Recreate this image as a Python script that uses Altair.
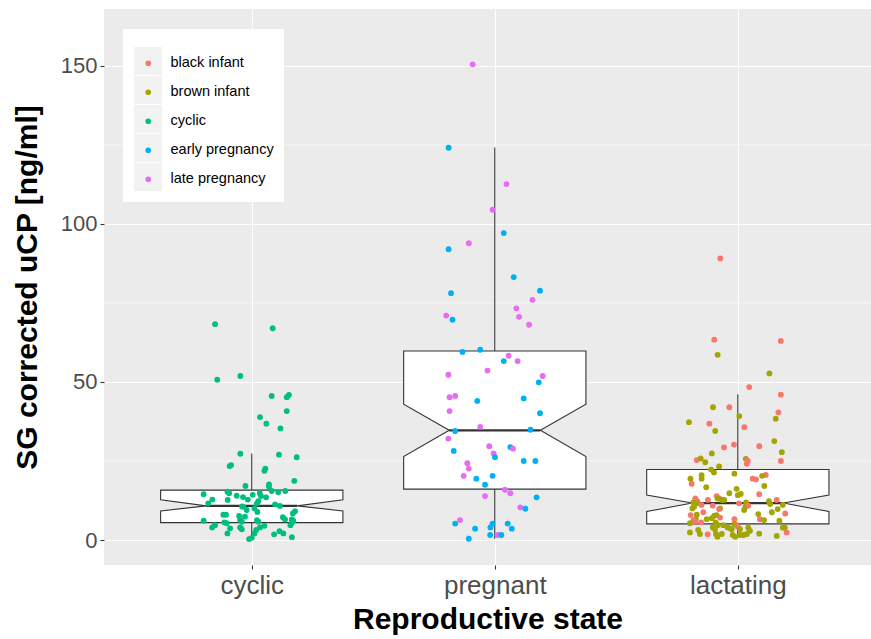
import json
import altair as alt
import pandas as pd

FONT = "Liberation Sans"

states = ["cyclic", "pregnant", "lactating"]
groups = ["black infant", "brown infant", "cyclic", "early pregnancy", "late pregnancy"]
colors = ["#F8766D", "#A3A500", "#00BF7D", "#00B0F6", "#E76BF3"]
y_ticks = [0, 50, 100, 150]
y_minor = [25, 75, 125]

# ---- box statistics (cyclic, pregnant, lactating)
q1 = [5.5, 16.1, 5.1]
median = [10.8, 34.7, 11.7]
q3 = [15.8, 59.8, 22.3]
notch_lo = [9.2, 26.4, 9.0]
notch_hi = [12.7, 43.0, 14.2]
whisk_lo = [0.3, 0.4, 1.0]
whisk_hi = [27.4, 124.2, 46.1]
box_half = 0.375
notch_half = 0.1875

# ---- jittered observations (jitter in category units)
cyc_jit = [-0.151, 0.086, -0.142, -0.047, 0.082, 0.144, 0.153, 0.144, 0.034, 0.060,
           0.118, -0.047, 0.112, 0.185, -0.085, -0.091, 0.052, 0.056, 0.175, -0.026,
           0.071, 0.071, -0.100, -0.093, -0.062, -0.198, -0.162, -0.179, -0.099, -0.036,
           -0.016, 0.004, 0.033, 0.038, 0.059, 0.082, 0.109, 0.138, 0.021, 0.027,
           -0.035, -0.040, -0.021, 0.096, 0.116, 0.011, 0.023, 0.178, 0.169, -0.117,
           -0.106, -0.052, -0.028, -0.198, 0.128, 0.137, 0.165, 0.171, -0.113, -0.103,
           -0.048, -0.041, 0.021, 0.027, -0.151, -0.163, -0.048, -0.041, 0.052, 0.034,
           0.159, 0.165, -0.089, -0.100, 0.018, 0.011, 0.092, 0.114, 0.130, 0.165,
           -0.011, 0.000]
cyc_val = [68.3, 67.0, 50.7, 51.9, 45.6, 45.2, 45.9, 40.8, 38.9, 36.8,
           35.3, 27.3, 27.0, 26.2, 23.7, 23.4, 21.9, 22.6, 18.7, 17.1,
           17.6, 16.9, 15.3, 14.8, 14.0, 14.5, 12.8, 11.6, 12.7, 13.6,
           12.8, 14.3, 14.8, 13.9, 13.5, 15.5, 15.1, 15.5, 11.6, 12.3,
           10.5, 10.6, 9.5, 11.3, 10.8, 10.0, 8.9, 9.1, 8.4, 8.0,
           8.0, 7.6, 7.4, 6.1, 7.2, 6.5, 6.5, 6.1, 5.6, 5.3,
           6.3, 5.8, 6.3, 5.8, 4.7, 4.0, 4.0, 3.4, 4.5, 4.0,
           4.7, 5.5, 3.7, 2.1, 3.2, 2.1, 1.8, 2.8, 2.1, 0.9,
           0.3, 0.7]

preg_jit = [-0.091, -0.190, 0.048, -0.009, 0.037, -0.107, -0.190, 0.078, 0.186, -0.180,
            0.155, 0.089, -0.200, -0.174, 0.100, 0.141, -0.060, -0.133, 0.057, 0.037,
            0.094, -0.191, -0.030, 0.197, 0.181, -0.186, -0.163, -0.072, 0.119, -0.186,
            0.186, -0.060, -0.163, 0.147, -0.191, -0.023, 0.064, 0.075, -0.169, -0.005,
            0.001, 0.119, 0.167, -0.113, -0.107, -0.128, -0.076, -0.009, -0.040, 0.042,
            0.064, -0.040, 0.172, 0.105, 0.126, -0.143, -0.163, -0.009, -0.018, 0.053,
            0.070, -0.081, -0.107, -0.019, 0.011, 0.027]
preg_val = [150.5, 124.1, 112.6, 104.5, 97.1, 93.9, 92.0, 83.2, 78.9, 78.1,
            76.0, 73.3, 71.0, 69.7, 70.6, 68.1, 60.2, 59.5, 58.3, 56.6,
            56.6, 52.3, 53.6, 51.9, 49.9, 45.2, 45.6, 44.0, 44.8, 40.8,
            40.1, 35.8, 34.5, 34.9, 32.1, 29.7, 29.4, 28.9, 28.2, 27.4,
            26.2, 25.0, 25.0, 24.3, 22.6, 20.3, 19.4, 20.3, 17.5, 15.9,
            14.8, 13.9, 13.5, 10.3, 9.9, 6.3, 5.2, 5.2, 4.0, 5.2,
            3.6, 3.6, 0.4, 1.6, 1.6, 1.6]
preg_grp = ["L", "E", "L", "L", "E", "L", "E", "E", "E", "E",
            "L", "L", "L", "E", "L", "L", "E", "E", "L", "E",
            "L", "L", "L", "L", "E", "L", "L", "E", "E", "L",
            "E", "L", "E", "E", "L", "L", "E", "L", "E", "L",
            "E", "E", "E", "L", "L", "L", "E", "E", "E", "L",
            "L", "L", "E", "L", "E", "L", "E", "E", "E", "E",
            "E", "E", "E", "E", "L", "E"]

lac_jit = [-0.072, -0.097, 0.177, -0.083, 0.130, 0.047, 0.177, -0.102, -0.035, 0.006,
           0.167, 0.156, -0.201, -0.117, 0.027, -0.093, 0.150, 0.088, -0.016, -0.057,
           0.181, -0.107, 0.177, 0.033, 0.041, 0.037, -0.169, -0.153, -0.134, -0.077,
           -0.110, -0.098, -0.014, -0.195, -0.190, -0.149, -0.149, 0.061, 0.075, 0.115,
           0.100, 0.109, -0.130, -0.005, -0.035, 0.000, 0.012, 0.088, -0.175, -0.167,
           -0.123, -0.087, -0.076, -0.066, -0.056, -0.083, 0.005, 0.034, 0.128, 0.133,
           0.160, 0.185, -0.183, -0.169, -0.149, -0.103, -0.187, -0.180, -0.073, -0.077,
           0.026, 0.031, 0.043, 0.164, 0.140, 0.195, -0.142, -0.169, 0.084, -0.087,
           -0.097, -0.194, -0.173, -0.128, -0.107, -0.176, -0.183, -0.151, -0.073, -0.014,
           0.091, 0.108, 0.171, -0.091, -0.083, -0.060, -0.042, -0.014, -0.005, 0.000,
           0.185, -0.197, -0.103, -0.094, -0.032, -0.025, 0.009, 0.043, -0.197, -0.163,
           -0.156, -0.124, -0.090, -0.084, -0.066, -0.021, -0.010, 0.009, 0.023, 0.037,
           0.050, 0.160, 0.201, 0.088, 0.193]
lac_val = [89.1, 63.4, 63.0, 58.6, 52.7, 48.4, 46.0, 42.0, 42.0, 39.2,
           40.4, 38.4, 37.3, 36.8, 35.7, 34.5, 31.3, 29.7, 30.2, 29.3,
           27.8, 27.4, 25.0, 25.7, 25.0, 24.1, 25.3, 25.8, 24.6, 23.3,
           22.3, 21.4, 21.0, 19.4, 17.8, 20.5, 19.4, 19.4, 19.2, 20.6,
           20.3, 17.1, 16.7, 16.2, 14.8, 14.2, 14.6, 14.5, 13.2, 12.3,
           12.7, 13.9, 13.2, 12.7, 12.7, 13.1, 11.6, 11.9, 12.3, 11.4,
           12.7, 11.1, 11.9, 11.6, 11.1, 10.9, 10.0, 10.5, 10.0, 9.8,
           9.5, 10.5, 10.9, 9.8, 8.8, 8.4, 8.8, 8.0, 8.2, 7.9,
           7.7, 7.9, 6.6, 6.6, 6.9, 5.8, 6.3, 5.6, 7.1, 6.6,
           6.6, 6.3, 6.1, 5.6, 4.7, 4.7, 4.0, 5.1, 4.7, 4.2,
           3.9, 5.3, 4.0, 3.4, 3.7, 3.4, 3.4, 3.9, 2.4, 3.2,
           1.9, 1.8, 1.9, 1.0, 1.9, 1.6, 1.0, 1.6, 1.6, 1.9,
           2.9, 1.3, 2.4, 2.0, 4.0]
lac_grp = ["R", "R", "R", "O", "O", "R", "R", "O", "R", "O",
           "R", "O", "O", "R", "R", "O", "O", "R", "R", "R",
           "O", "O", "R", "O", "R", "R", "R", "O", "O", "O",
           "O", "O", "O", "O", "R", "O", "O", "R", "R", "R",
           "O", "O", "O", "O", "O", "O", "O", "R", "R", "R",
           "R", "R", "R", "O", "O", "O", "R", "O", "O", "O",
           "R", "O", "O", "O", "R", "R", "O", "O", "O", "R",
           "O", "O", "R", "O", "O", "R", "R", "O", "O", "O",
           "O", "R", "O", "O", "O", "R", "R", "R", "R", "R",
           "R", "O", "O", "O", "O", "O", "O", "O", "O", "R",
           "O", "O", "O", "O", "O", "O", "O", "O", "O", "O",
           "O", "R", "O", "O", "O", "O", "O", "O", "O", "O",
           "O", "O", "R", "O", "O"]

code_names = {"E": "early pregnancy", "L": "late pregnancy",
              "R": "black infant", "O": "brown infant"}

assert len(cyc_jit) == len(cyc_val)
assert len(preg_jit) == len(preg_val) == len(preg_grp)
assert len(lac_jit) == len(lac_val) == len(lac_grp)

# ---- tables
rows = []
for j, v in zip(cyc_jit, cyc_val):
    rows.append({"x": 1 + j, "y": v, "group": "cyclic"})
for j, v, g in zip(preg_jit, preg_val, preg_grp):
    rows.append({"x": 2 + j, "y": v, "group": code_names[g]})
for j, v, g in zip(lac_jit, lac_val, lac_grp):
    rows.append({"x": 3 + j, "y": v, "group": code_names[g]})
pts = pd.DataFrame(rows)
# separate key field (distinct domain) so the key-box legend is not merged with the colour legend
key_domain = [g + " " for g in groups]
pts["key"] = pts["group"] + " "

box_rows, whisk_rows, med_rows = [], [], []
for i, s in enumerate(states):
    c = i + 1
    for yv, hw in [(q1[i], box_half), (notch_lo[i], box_half), (median[i], notch_half),
                   (notch_hi[i], box_half), (q3[i], box_half)]:
        box_rows.append({"state": s, "y": yv, "x": c - hw, "x2": c + hw})
    whisk_rows.append({"state": s, "x": c, "y": q3[i], "y2": whisk_hi[i]})
    whisk_rows.append({"state": s, "x": c, "y": whisk_lo[i], "y2": q1[i]})
    med_rows.append({"state": s, "x": c - notch_half, "x2": c + notch_half, "y": median[i]})
boxes = pd.DataFrame(box_rows)
whisk = pd.DataFrame(whisk_rows)
meds = pd.DataFrame(med_rows)
minor = pd.DataFrame({"y": y_minor})

# ---- scales / axes
xscale = alt.Scale(domain=[0.392, 3.548], nice=False, zero=False)
yscale = alt.Scale(domain=[-7.9, 168.0], nice=False, zero=False)

label_expr = json.dumps(states) + "[datum.value - 1]"
xaxis = alt.Axis(values=[1, 2, 3], labelExpr=label_expr, title="Reproductive state",
                 grid=True, gridColor="white", gridWidth=1.1, domain=False,
                 ticks=True, tickColor="#333333", tickSize=4, tickWidth=1.1,
                 labelFont=FONT, labelFontSize=26, labelColor="#4D4D4D", labelPadding=3,
                 labelFlush=False,
                 titleFont=FONT, titleFontSize=30, titleFontWeight="bold", titleColor="black",
                 titlePadding=6)
yaxis = alt.Axis(values=y_ticks, title="SG corrected uCP [ng/ml]",
                 grid=True, gridColor="white", gridWidth=1.1, domain=False,
                 ticks=True, tickColor="#333333", tickSize=4, tickWidth=1.1,
                 labelFont=FONT, labelFontSize=22, labelColor="#4D4D4D", labelPadding=3,
                 labelFlush=False,
                 titleFont=FONT, titleFontSize=30, titleFontWeight="bold", titleColor="black",
                 titlePadding=18)

X = lambda f="x": alt.X(f"{f}:Q", scale=xscale, axis=xaxis)
Y = lambda f="y": alt.Y(f"{f}:Q", scale=yscale, axis=yaxis)

minor_grid = alt.Chart(minor).mark_rule(color="white", strokeWidth=0.55).encode(y=Y())

box_layer = alt.Chart(boxes).mark_area(
    orient="horizontal", fill="white", stroke="#333333", strokeWidth=1.1, opacity=1
).encode(y=Y(), x=X(), x2="x2:Q", detail="state:N")

whisk_layer = alt.Chart(whisk).mark_rule(color="#333333", strokeWidth=1.1).encode(
    x=X(), y=Y(), y2="y2:Q")

med_layer = alt.Chart(meds).mark_rule(color="#333333", strokeWidth=2.3).encode(
    x=X(), x2="x2:Q", y=Y())

# invisible copy of the points whose legend draws the white key box with grey key squares
key_layer = alt.Chart(pts).mark_point(opacity=0, filled=True, color="#F2F2F2").encode(
    x=X(), y=Y(),
    shape=alt.Shape("key:N", scale=alt.Scale(domain=key_domain,
                                              range=["square"] * len(key_domain)),
                    legend=alt.Legend(title=" ", titleFontSize=7, titlePadding=0,
                                      orient="none", legendX=19, legendY=20,
                                      fillColor="white", padding=11, symbolType="square",
                                      symbolSize=784, symbolFillColor="#F2F2F2",
                                      symbolStrokeColor="#F2F2F2", symbolStrokeWidth=0,
                                      symbolOpacity=1, labelOpacity=0,
                                      labelFont=FONT, labelFontSize=14.5, labelOffset=7,
                                      rowPadding=1, labelLimit=300)))

point_layer = alt.Chart(pts).mark_circle(size=34, opacity=1).encode(
    x=X(), y=Y(),
    color=alt.Color("group:N", scale=alt.Scale(domain=groups, range=colors),
                    legend=alt.Legend(title=" ", titleFontSize=12, titlePadding=2,
                                      orient="none", legendX=19, legendY=20,
                                      padding=13, symbolType="circle",
                                      symbolSize=32, symbolStrokeWidth=0,
                                      labelFont=FONT, labelFontSize=14.5, labelColor="black",
                                      rowPadding=14, symbolOffset=5, labelOffset=15,
                                      labelLimit=300)))

chart = alt.layer(minor_grid, box_layer, whisk_layer, med_layer, key_layer,
                  point_layer).properties(
    width=767, height=556,
    padding={"left": 104, "top": 9, "right": 0, "bottom": 74},
    autosize=alt.AutoSizeParams(type="none"),
    background="white",
).configure_view(fill="#EBEBEB", stroke=None)

chart.save("out.html", embed_options={"renderer": "svg", "actions": False})
